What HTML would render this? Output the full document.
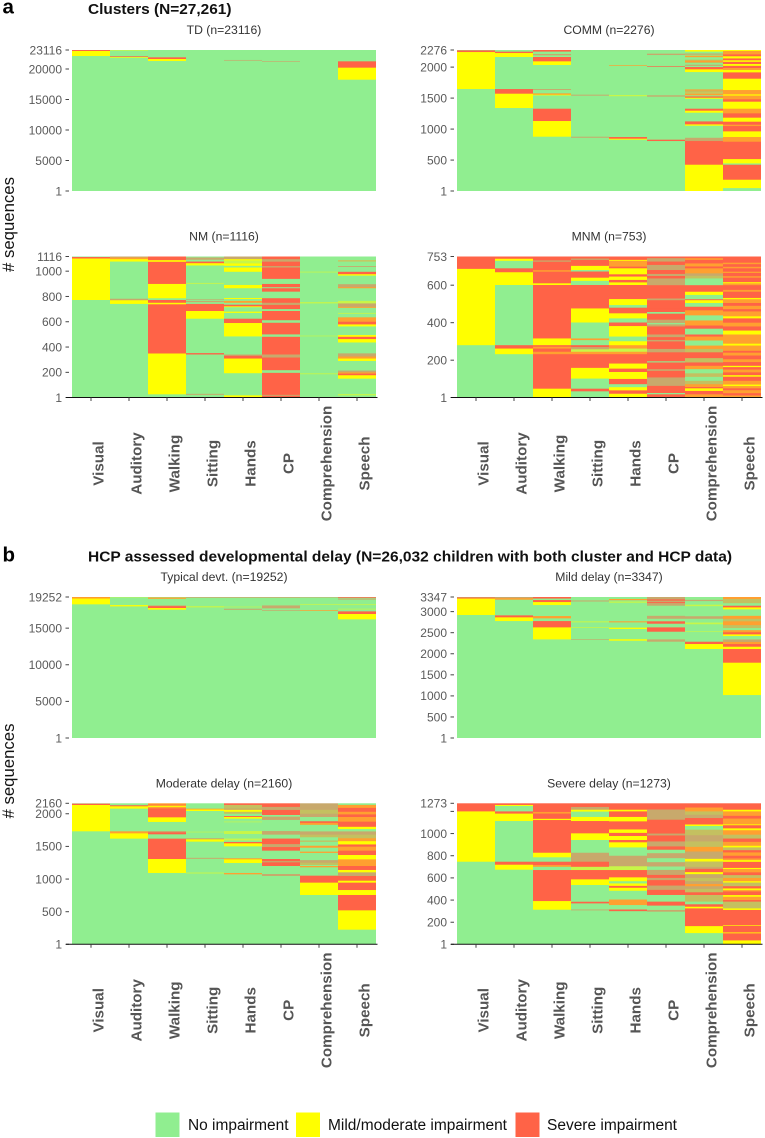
<!DOCTYPE html>
<html lang="en">
<head>
<meta charset="utf-8">
<title>Impairment sequence plots</title>
<style>
html,body{margin:0;padding:0;background:#fff;}
svg{display:block;}
text{font-family:"Liberation Sans",Arial,sans-serif;}
</style>
</head>
<body>
<svg id="chart" xmlns="http://www.w3.org/2000/svg" width="765" height="1138" viewBox="0 0 765 1138">
  <text x="2.5" y="13.5" font-size="20.5" font-weight="700" fill="#000">a</text>
  <text x="88" y="14" font-size="14.5" font-weight="700" fill="#111" textLength="143.5" lengthAdjust="spacingAndGlyphs">Clusters (N=27,261)</text>
  <text x="2.5" y="561.5" font-size="20.5" font-weight="700" fill="#000">b</text>
  <text x="88" y="561.5" font-size="14.5" font-weight="700" fill="#111" textLength="644" lengthAdjust="spacingAndGlyphs">HCP assessed developmental delay (N=26,032 children with both cluster and HCP data)</text>
  <text transform="translate(14,224.5) rotate(-90)" text-anchor="middle" font-size="16.5" fill="#111" textLength="95" lengthAdjust="spacingAndGlyphs"># sequences</text>
  <text transform="translate(14,771) rotate(-90)" text-anchor="middle" font-size="16.5" fill="#111" textLength="95" lengthAdjust="spacingAndGlyphs"># sequences</text>
  <g id="panels"></g>
  <g>
    <rect x="155.5" y="1112.5" width="24" height="24.5" fill="#90EE90"/>
    <text x="188" y="1130" font-size="15.4" fill="#111" textLength="100.5" lengthAdjust="spacingAndGlyphs">No impairment</text>
    <rect x="296" y="1112.5" width="24" height="24.5" fill="#FFFF00"/>
    <text x="328" y="1130" font-size="15.4" fill="#111" textLength="179" lengthAdjust="spacingAndGlyphs">Mild/moderate impairment</text>
    <rect x="515.5" y="1112.5" width="24" height="24.5" fill="#FF6347"/>
    <text x="547" y="1130" font-size="15.4" fill="#111" textLength="130" lengthAdjust="spacingAndGlyphs">Severe impairment</text>
  </g>
</svg>
<script>
// Domain categories, in column order.
const domains = ["Visual","Auditory","Walking","Sitting","Hands","CP","Comprehension","Speech"];

// Panel titles and group sizes.
const panelTitles = ["TD (n=23116)","COMM (n=2276)","NM (n=1116)","MNM (n=753)","Typical devt. (n=19252)","Mild delay (n=3347)","Moderate delay (n=2160)","Severe delay (n=1273)"];
const panelCounts = [23116,2276,1116,753,19252,3347,2160,1273];

// Y axis tick values and printed labels for each panel.
const tickValues = [
  [1,5000,10000,15000,20000,23116],
  [1,500,1000,1500,2000,2276],
  [1,200,400,600,800,1000,1116],
  [1,200,400,600,753],
  [1,5000,10000,15000,19252],
  [1,500,1000,1500,2000,2500,3000,3347],
  [1,500,1000,1500,2000,2160],
  [1,200,400,600,800,1000,1200,1273]
];
const tickLabels = [
  ["1","5000","10000","15000","20000","23116"],
  ["1","500","1000","1500","2000","2276"],
  ["1","200","400","600","800","1000","1116"],
  ["1","200","400","600","753"],
  ["1","5000","10000","15000","19252"],
  ["1","500","1000","1500","2000","2500","3000","3347"],
  ["1","500","1000","1500","2000","2160"],
  ["1","200","400","600","800","1000","","1273"]
];

// Sequence runs per domain, bottom to top: upper sequence number, then state.
// States: 0 none, 1 mild/moderate, 2 severe; 3, 4, 5, 6 are rows too thin to separate
// (none+severe, mild+severe, none+mild, all three).
const runsTD = [
  [22132,0,22950,1,23116,2],
  [21860,0,21970,1,22080,2,23000,0,23116,5],
  [21310,0,21640,1,21915,2,23116,0],
  [23116,0],
  [21370,0,21480,3,23116,0],
  [21200,0,21310,3,23116,0],
  [23116,0],
  [18250,0,20220,1,21260,2,23116,0]
];
const runsCOMM = [
  [1646,0,2243,1,2270,2,2276,0],
  [1340,0,1571,1,1646,2,2163,0,2227,1,2249,2,2276,0],
  [877,0,1130,1,1329,2,1544,0,1555,1,1576,4,1630,0,1646,3,2034,0,2093,1,2163,2,2190,0,2212,3,2250,0,2276,2],
  [860,0,877,3,1539,0,1555,3,2276,0],
  [829,0,845,1,872,2,1530,0,1550,5,2023,0,2034,4,2276,0],
  [807,0,829,2,1523,0,1545,3,2007,0,2018,2,2195,0,2217,3,2276,0],
  [425,1,807,2,860,3,1054,0,1076,1,1124,2,1264,0,1297,1,1329,2,1490,0,1506,1,1528,2,1545,0,1576,4,1590,0,1600,4,1622,6,1640,4,1920,0,1964,1,2001,2,2020,0,2039,3,2065,0,2080,6,2105,4,2120,6,2160,0,2185,4,2200,0,2220,3,2250,0,2276,1],
  [48,0,183,1,425,2,446,0,516,1,796,2,872,4,963,1,1049,2,1071,4,1119,2,1184,1,1254,2,1280,4,1329,4,1442,1,1480,2,1540,4,1560,1,1630,4,1813,1,1915,2,1953,1,1985,4,2020,2,2050,1,2085,2,2110,1,2140,2,2175,1,2205,2,2260,4,2276,1]
];
const runsNM = [
  [772,0,1100,1,1112,2,1116,0],
  [741,0,770,1,782,3,1076,0,1095,1,1108,4,1116,3],
  [26,0,349,1,738,2,750,1,772,2,786,0,899,1,1074,2,1087,1,1116,2],
  [22,0,30,3,341,0,352,2,624,0,685,1,741,2,755,0,765,3,775,0,780,3,900,0,907,5,1045,0,1063,1,1076,2,1090,0,1108,3,1116,0],
  [18,1,193,0,309,1,331,2,341,3,484,0,590,1,624,2,670,0,680,1,715,0,722,1,735,2,750,0,765,4,780,0,788,1,865,0,891,1,995,0,1029,1,1042,0,1061,1,1085,5,1095,1,1116,3],
  [14,2,22,3,196,2,217,0,317,2,341,3,481,2,500,0,592,2,612,0,685,2,700,0,733,2,750,3,786,2,838,0,865,2,873,0,899,2,939,0,1029,2,1040,3,1075,2,1095,3,1116,2],
  [185,0,192,5,485,0,490,5,745,0,755,5,990,0,996,5,1116,0],
  [18,0,28,5,150,0,177,1,190,2,200,4,214,3,290,0,309,1,325,4,350,3,436,0,463,1,481,2,495,1,563,0,579,1,600,2,635,4,663,0,670,5,710,0,718,4,745,3,765,5,865,0,873,4,897,3,965,0,976,1,995,2,1033,0,1040,3,1078,0,1084,4,1116,0]
];
const runsMNM = [
  [280,0,687,1,753,2],
  [232,0,262,1,280,2,601,0,669,1,690,2,730,0,741,1,753,2],
  [48,1,232,2,245,4,262,2,272,4,280,2,316,1,601,2,610,1,672,2,680,4,725,2,732,3,753,2],
  [34,0,48,2,102,0,159,1,232,2,245,4,258,5,270,3,280,2,307,0,316,4,401,0,476,1,601,2,623,0,640,1,673,2,681,0,703,1,735,2,742,3,753,2],
  [21,1,39,2,56,1,72,0,100,2,137,1,155,2,182,1,232,2,245,4,262,5,280,4,301,1,326,0,382,1,401,2,423,0,450,1,480,2,494,0,526,1,601,2,615,1,628,2,646,1,658,2,690,1,699,2,730,4,735,1,753,2],
  [18,2,25,0,63,2,108,3,143,2,152,3,188,2,194,0,242,2,260,3,300,2,308,3,323,2,337,3,380,2,391,3,398,0,416,3,448,2,457,0,475,2,520,2,529,3,600,2,636,3,649,2,660,3,681,2,708,3,726,2,744,3,753,2],
  [18,4,36,2,50,1,57,2,72,4,90,6,111,0,130,6,152,0,170,4,188,2,211,6,242,2,260,6,278,4,305,0,326,4,337,2,368,0,385,2,412,4,439,0,466,4,485,2,505,0,520,1,525,2,548,0,565,1,600,2,636,0,650,6,663,3,690,4,700,2,716,4,735,2,744,4,753,2],
  [12,4,24,2,40,4,50,2,62,4,70,1,90,4,112,2,120,1,135,2,150,4,163,2,170,1,190,2,205,4,225,2,240,4,250,2,278,4,288,1,337,4,358,1,380,2,400,4,423,2,434,1,460,4,472,2,490,4,505,2,525,4,532,1,565,2,575,4,600,2,610,4,616,1,640,2,648,4,665,2,672,4,690,2,698,4,712,2,720,4,753,2]
];
const runsTypical = [
  [18250,0,19070,1,19200,2,19252,1],
  [17970,0,18150,1,19200,0,19252,5],
  [17520,0,17745,1,18000,2,18100,3,19000,0,19190,4,19252,0],
  [17830,0,18000,5,19150,0,19252,3],
  [17500,0,17650,3,17850,0,17930,5,19150,0,19252,3],
  [17380,0,17480,3,17700,0,18100,3,19150,0,19252,3],
  [17350,0,17450,4,18200,0,18300,5,19180,0,19252,3],
  [16200,0,16930,1,17290,2,17550,0,17650,5,18150,0,18260,5,18900,0,19050,3,19150,0,19252,2]
];
const runsMild = [
  [2920,0,3310,1,3340,2,3347,0],
  [2776,0,2864,1,2911,2,3283,0,3320,4,3347,3],
  [2341,0,2626,1,2776,2,2840,0,2895,4,3156,0,3227,1,3275,2,3310,0,3347,2],
  [2335,0,2350,3,2612,0,2630,5,2745,0,2770,5,3240,0,3265,3,3347,0],
  [2310,0,2345,1,2587,0,2620,1,2745,0,2770,4,3210,0,3240,5,3270,0,3300,4,3347,0],
  [2286,0,2341,3,2523,0,2626,2,2713,0,2770,2,2830,0,2900,3,3140,0,3203,3,3225,2,3260,3,3290,2,3347,3],
  [2112,0,2231,1,2286,2,2340,0,2520,0,2535,5,2700,0,2740,5,2830,0,2890,3,3130,0,3165,5,3250,0,3280,3,3347,0],
  [1020,0,1788,1,2112,2,2167,1,2230,2,2280,4,2340,3,2420,0,2460,1,2510,2,2560,4,2610,0,2680,6,2770,4,2830,6,2900,4,3053,0,3100,1,3140,2,3200,0,3300,6,3347,4]
];
const runsModerate = [
  [1731,0,2134,1,2155,2,2160,0],
  [1619,0,1700,1,1731,4,2078,0,2114,1,2130,2,2160,0],
  [1093,0,1307,1,1619,2,1685,0,1716,2,1735,3,1874,0,1945,1,2083,2,2105,4,2125,1,2140,2,2160,4],
  [1085,0,1100,5,1310,0,1325,3,1573,0,1608,1,1625,3,1715,0,1725,5,2042,0,2065,1,2078,4,2160,0],
  [1072,0,1093,4,1246,0,1302,1,1318,4,1501,0,1547,1,1568,2,1590,0,1620,5,1690,0,1735,5,1870,0,1880,5,1925,0,1950,1,1965,2,2000,0,2030,6,2060,1,2080,3,2135,6,2160,2],
  [1047,0,1077,3,1200,0,1256,2,1275,3,1307,2,1435,0,1490,2,1535,3,1568,2,1620,2,1680,0,1735,3,1905,0,1955,3,1981,0,2058,2,2105,3,2160,2],
  [756,0,945,1,1052,2,1180,0,1200,4,1215,0,1250,6,1290,3,1400,0,1420,4,1480,0,1510,4,1570,0,1590,6,1640,0,1680,6,1730,3,1830,0,1860,4,1885,2,1950,0,2000,3,2060,6,2160,3],
  [225,0,521,1,756,2,832,1,945,2,975,1,1047,2,1103,3,1139,1,1200,2,1302,4,1368,1,1435,2,1496,4,1530,2,1580,1,1625,4,1680,6,1730,3,1765,0,1800,1,1879,2,1950,4,1990,2,2030,4,2090,2,2135,4,2160,0]
];
const runsSevere = [
  [746,0,1200,1,1273,2],
  [674,0,719,1,746,2,1113,0,1180,1,1200,2,1249,0,1258,1,1273,2],
  [313,0,391,1,671,2,700,0,716,4,746,2,786,0,827,1,1122,2,1133,1,1180,2,1195,4,1273,2],
  [307,0,315,3,370,0,385,2,536,0,587,1,671,2,700,5,746,2,790,3,827,3,942,0,1002,1,1113,2,1150,1,1198,0,1215,1,1240,3,1273,2],
  [300,0,315,2,355,0,405,4,484,0,511,1,528,2,550,1,570,0,605,1,671,2,705,5,800,3,875,0,921,1,942,2,978,1,1006,2,1037,1,1110,2,1150,1,1200,2,1215,1,1273,2],
  [295,0,311,3,350,0,386,2,446,0,492,2,531,3,580,2,600,3,627,2,672,3,703,0,742,3,778,0,823,3,854,0,884,2,929,3,983,2,1000,3,1040,2,1125,2,1170,3,1217,3,1273,2],
  [102,0,165,1,325,2,340,1,362,2,386,0,446,6,470,2,501,6,525,3,545,4,570,3,600,6,634,3,652,1,682,2,700,3,748,6,772,1,838,3,880,4,929,6,985,3,1035,6,1068,0,1082,1,1140,2,1170,3,1200,6,1235,4,1273,2],
  [36,1,100,2,108,1,169,2,175,1,311,2,325,1,386,6,400,2,430,4,445,1,478,2,490,4,505,1,525,2,558,6,570,1,600,4,625,6,650,2,680,4,690,1,745,2,760,1,775,4,800,2,830,4,850,2,875,6,890,1,925,4,955,2,990,6,1030,4,1047,1,1075,2,1083,1,1135,4,1160,2,1200,4,1215,1,1273,2]
];
const panelRuns = [runsTD,runsCOMM,runsNM,runsMNM,runsTypical,runsMild,runsModerate,runsSevere];

const SVG_NS = "http://www.w3.org/2000/svg";
const stateFill = ["#90EE90","#FFFF00","#FF6347","#C8A96C","#FFA030","#C8F648","#C4C060"];
const plotWidth = 304, plotHeight = 141;
const panelLefts = [72,457,72,457,72,457,72,457];
const panelTops = [50,50,256.5,256.5,597,597,803.3,803.3];
const hasXAxis = [false,false,true,true,false,false,true,true];
const host = document.getElementById("panels");

function xBand(left, col){ return left + col * plotWidth / domains.length; }
function yPos(top, n, value){ return top + plotHeight - (value - 1) / (n - 1) * plotHeight; }

function drawPanel(p){
  const n = panelCounts[p], left = panelLefts[p], top = panelTops[p], bottom = top + plotHeight;
  const bw = plotWidth / domains.length;
  const g = document.createElementNS(SVG_NS, "g");
  
  
  host.appendChild(g);

  const title = document.createElementNS(SVG_NS, "text");
  
  
  title.setAttribute("x", left + plotWidth / 2);
  title.setAttribute("y", top - 16);
  title.setAttribute("text-anchor", "middle");
  title.setAttribute("font-size", "12.2");
  title.setAttribute("fill", "#333");
  title.textContent = panelTitles[p];
  g.appendChild(title);

  panelRuns[p].forEach(function(runs, col){
    // Paint from the top run down, so sub-pixel rows blend with their neighbours.
    for (let i = runs.length - 2; i >= 0; i -= 2){
      const upper = runs[i], state = runs[i + 1], lower = i > 0 ? runs[i - 2] : 1;
      const y0 = yPos(top, n, upper);
      const y1 = Math.min(bottom, yPos(top, n, lower) + 1);
      const r = document.createElementNS(SVG_NS, "rect");
      
      
      r.setAttribute("x", xBand(left, col));
      r.setAttribute("y", y0);
      r.setAttribute("width", bw);
      r.setAttribute("height", Math.max(0, y1 - y0));
      r.setAttribute("fill", stateFill[state]);
      g.appendChild(r);
    }
  });

  tickValues[p].forEach(function(v, i){
    const y = yPos(top, n, v);
    const t = document.createElementNS(SVG_NS, "line");
    
    
    t.setAttribute("x1", left - 6.5);
    t.setAttribute("x2", left - 3);
    t.setAttribute("y1", y);
    t.setAttribute("y2", y);
    t.setAttribute("stroke", "#444");
    t.setAttribute("stroke-width", "1");
    g.appendChild(t);
    const lab = document.createElementNS(SVG_NS, "text");
    
    
    lab.setAttribute("x", left - 10);
    lab.setAttribute("y", y + 4.3);
    lab.setAttribute("text-anchor", "end");
    lab.setAttribute("font-size", "12");
    lab.setAttribute("fill", "#5a5a5a");
    lab.textContent = tickLabels[p][i];
    g.appendChild(lab);
  });

  if (hasXAxis[p]){
    const axis = document.createElementNS(SVG_NS, "line");
    
    
    axis.setAttribute("x1", left - 6);
    axis.setAttribute("x2", left + plotWidth + 1.5);
    axis.setAttribute("y1", bottom);
    axis.setAttribute("y2", bottom);
    axis.setAttribute("stroke", "#111");
    axis.setAttribute("stroke-width", "1");
    g.appendChild(axis);
    domains.forEach(function(name, col){
      const cx = xBand(left, col) + bw / 2;
      const tk = document.createElementNS(SVG_NS, "line");
      
      
      tk.setAttribute("x1", cx);
      tk.setAttribute("x2", cx);
      tk.setAttribute("y1", bottom);
      tk.setAttribute("y2", bottom + 3.5);
      tk.setAttribute("stroke", "#444");
      tk.setAttribute("stroke-width", "1");
      g.appendChild(tk);
      const lab = document.createElementNS(SVG_NS, "text");
      
      
      lab.setAttribute("transform", "translate(" + (cx + 12.3) + "," + (bottom + 66) + ") rotate(-90)");
      lab.setAttribute("text-anchor", "middle");
      lab.setAttribute("font-size", "15.2");
      lab.setAttribute("font-weight", "700");
      lab.setAttribute("fill", "#555");
      lab.textContent = name;
      g.appendChild(lab);
    });
  }
}
panelCounts.forEach(function(_, p){ drawPanel(p); });
</script>
</body>
</html>
